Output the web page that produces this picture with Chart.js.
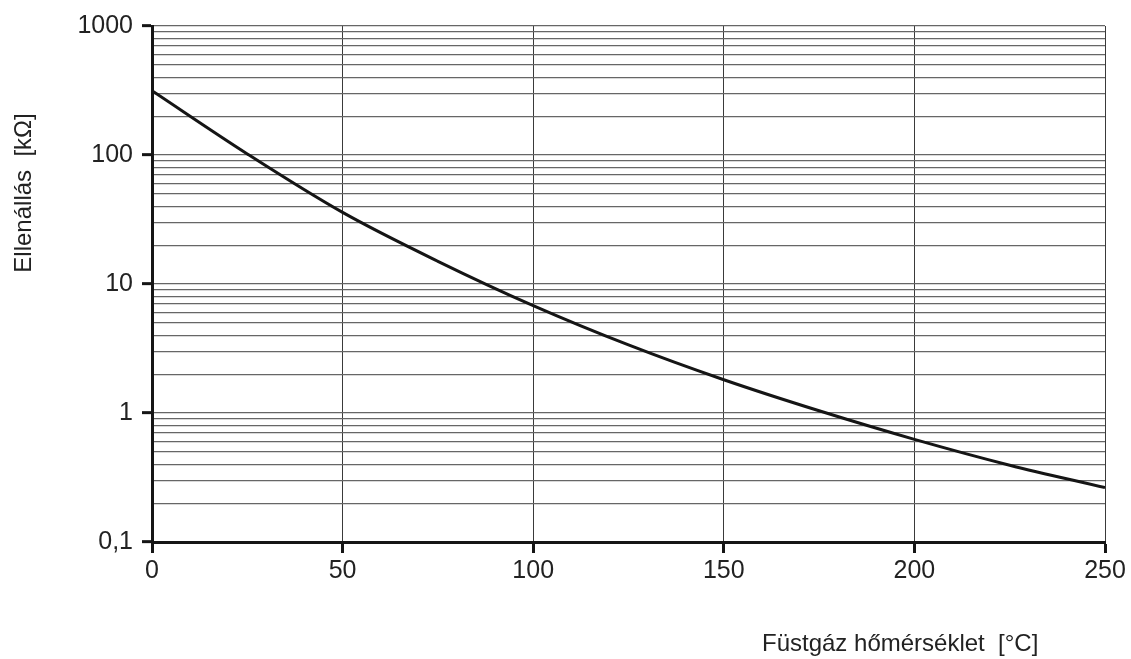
<!DOCTYPE html>
<html>
<head>
<meta charset="utf-8">
<script src="https://cdn.jsdelivr.net/npm/chart.js@4"></script>
<style>
  body { margin: 0; background: #fff; }
</style>
</head>
<body>
<canvas id="ntc" width="1131" height="659"></canvas>
<script>
// flue gas temperature [°C] vs sensor resistance [kOhm]
let tempC = [0, 25, 50, 75, 100, 125, 150, 175, 200, 225, 250];
let resistance = [315, 102, 35.9, 15.0, 6.8, 3.37, 1.81, 1.04, 0.625, 0.394, 0.264];

let yDecades = [0.1, 1, 10, 100, 1000];
let yTickLabels = ["0,1", "1", "10", "100", "1000"];
let xTickStep = 50;

let yTitle = "Ellenállás  [kΩ]";
let xTitle = "Füstgáz hőmérséklet  [°C]";

const FONT = "'Liberation Sans', Arial, sans-serif";

let isMajor = (v) => yDecades.indexOf(v) !== -1;

// axis titles sit off-center in the original, so draw them by hand
const titles = {
    id: "titles",
    afterDraw(chart) {
        const c = chart.ctx;
        c.save();
        c.fillStyle = "#222";
        c.font = "24px " + FONT;
        c.textBaseline = "middle";
        c.textAlign = "left";
        c.fillText(xTitle, 762, 644);
        c.translate(24, 193);
        c.rotate(-Math.PI / 2);
        c.textAlign = "center";
        c.fillText(yTitle, 0, 0);
        c.restore();
    }
};

new Chart("ntc", {
    type: "line",
    data: {
        datasets: [{
            data: tempC.map((t, i) => ({ x: t, y: resistance[i] })),
            borderColor: "#151515",
            borderWidth: 3,
            pointRadius: 0,
            cubicInterpolationMode: "monotone",
            fill: false
        }]
    },
    options: {
        responsive: false,
        devicePixelRatio: 1,
        animation: false,
        layout: { padding: { left: 0, top: 26, right: 26, bottom: 0 } },
        plugins: { legend: { display: false }, tooltip: { enabled: false } },
        scales: {
            x: {
                type: "linear",
                min: 0,
                max: 250,
                afterFit: (s) => { s.height = 117 },
                ticks: {
                    stepSize: xTickStep,
                    color: "#222",
                    padding: 3,
                    font: { family: FONT, size: 25 }
                },
                grid: {
                    color: "#3a3a3a",
                    lineWidth: 1,
                    tickLength: 11,
                    tickColor: "#151515",
                    tickWidth: 3
                },
                border: { color: "#151515", width: 3 }
            },
            y: {
                type: "logarithmic",
                min: 0.1,
                max: 1000,
                afterFit: (s) => { s.width = 152 },
                afterBuildTicks: (s) => {
                    let t = [];
                    for (let i = 0; i < yDecades.length - 1; i++) {
                        for (let m = 1; m < 10; m++) t.push({ value: yDecades[i] * m });
                    }
                    t.push({ value: yDecades[yDecades.length - 1] });
                    s.ticks = t;
                },
                ticks: {
                    autoSkip: false,
                    color: "#222",
                    padding: 9,
                    font: { family: FONT, size: 25 },
                    callback: (v) => {
                        let i = yDecades.indexOf(v);
                        return i === -1 ? "" : yTickLabels[i];
                    }
                },
                grid: {
                    color: "#666",
                    lineWidth: 1.3,
                    tickLength: 10,
                    tickColor: (ctx) => ctx.tick && isMajor(ctx.tick.value) ? "#151515" : "rgba(0,0,0,0)",
                    tickWidth: 3
                },
                border: { color: "#151515", width: 3 }
            }
        }
    },
    plugins: [titles]
});
</script>
</body>
</html>
